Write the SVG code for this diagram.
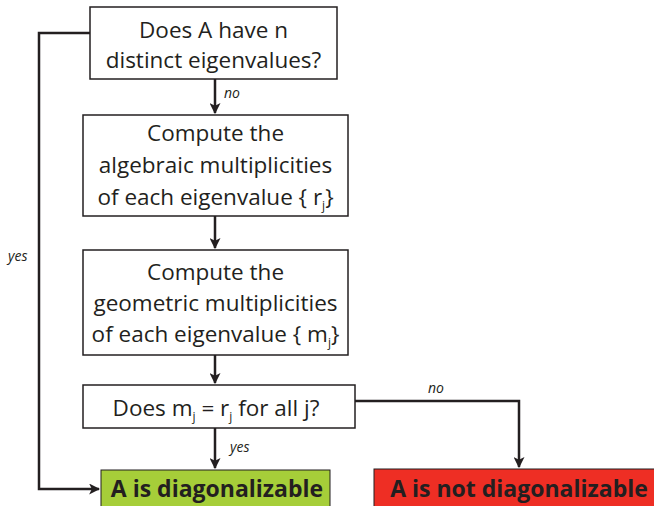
<svg xmlns="http://www.w3.org/2000/svg" width="654" height="506" viewBox="0 0 654 506">
<style>
.box{fill:#fff;stroke:#231f20;stroke-width:1.5}
.t{font-family:"Open Sans",sans-serif;font-size:22.5px;fill:#231f20;text-anchor:middle}
.sub{font-size:12px}
.lbl{font-family:"Open Sans",sans-serif;font-size:14px;font-style:italic;fill:#231f20}
.b{font-family:"Open Sans",sans-serif;font-size:23px;font-weight:bold;fill:#231f20;text-anchor:middle}
.c{fill:none;stroke:#231f20;stroke-width:2.5}
</style>
<defs>
<marker id="ah" viewBox="0 0 10 10" refX="9" refY="5" markerWidth="4.4" markerHeight="4.4" orient="auto" markerUnits="strokeWidth">
<path d="M0,0 L10,5 L0,10 L2.5,5 Z" fill="#231f20"/>
</marker>
</defs>
<g id="connectors">
<path class="c" d="M215,79 V113" marker-end="url(#ah)"/>
<path class="c" d="M215,216 V248" marker-end="url(#ah)"/>
<path class="c" d="M215,355 V383" marker-end="url(#ah)"/>
<path class="c" d="M215,428 V468" marker-end="url(#ah)"/>
<path class="c" d="M355,401 H519 V467" marker-end="url(#ah)"/>
<path class="c" d="M90,33 H39 V489 H99" marker-end="url(#ah)"/>
<text class="lbl" x="224" y="98">no</text>
<text class="lbl" x="230" y="452">yes</text>
<text class="lbl" x="428" y="393">no</text>
<text class="lbl" x="8" y="261">yes</text>
</g>
<g id="n1">
<rect class="box" x="90" y="7" width="247" height="72"/>
<text class="t" x="213.5" y="38">Does A have n</text>
<text class="t" x="213.5" y="68">distinct eigenvalues?</text>
</g>
<g id="n2">
<rect class="box" x="83" y="115" width="265" height="101"/>
<text class="t" x="215.5" y="141">Compute the</text>
<text class="t" x="215.5" y="173">algebraic multiplicities</text>
<text class="t" x="215.5" y="205">of each eigenvalue { r<tspan class="sub" dy="5">j</tspan><tspan dy="-5">}</tspan></text>
</g>
<g id="n3">
<rect class="box" x="83" y="250" width="265" height="105"/>
<text class="t" x="215.5" y="280">Compute the</text>
<text class="t" x="215.5" y="311">geometric multiplicities</text>
<text class="t" x="215.5" y="342">of each eigenvalue { m<tspan class="sub" dy="5">j</tspan><tspan dy="-5">}</tspan></text>
</g>
<g id="n4">
<rect class="box" x="83" y="385" width="272" height="43"/>
<text class="t" x="216" y="416">Does m<tspan class="sub" dy="5">j</tspan><tspan dy="-5"> = r</tspan><tspan class="sub" dy="5">j</tspan><tspan dy="-5"> for all j?</tspan></text>
</g>
<g id="n5">
<rect x="101" y="470" width="229" height="40" fill="#a6ce39" stroke="#231f20" stroke-width="1"/>
<text class="b" x="217" y="497">A is diagonalizable</text>
</g>
<g id="n6">
<rect x="374" y="469" width="284" height="41" fill="#ee2e24" stroke="#231f20" stroke-width="1"/>
<text class="b" x="519" y="497">A is not diagonalizable</text>
</g>
</svg>
